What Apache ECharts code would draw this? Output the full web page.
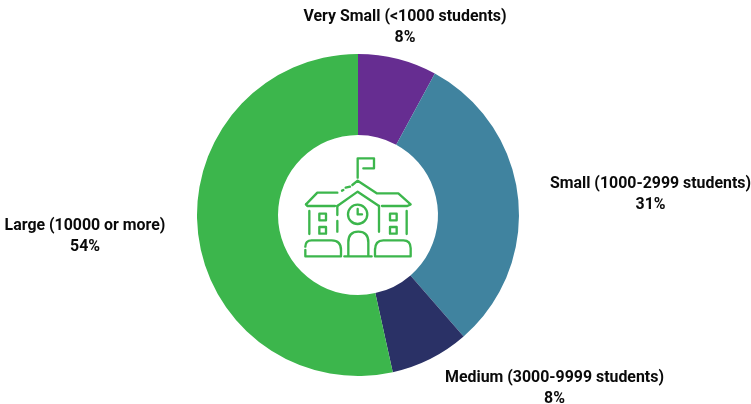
<!DOCTYPE html>
<html>
<head>
<meta charset="utf-8">
<style>html,body{margin:0;padding:0;background:#fff}#chart{width:751px;height:404px}</style>
<script src="https://cdn.jsdelivr.net/npm/echarts@6/dist/echarts.min.js"></script>
</head>
<body>
<div id="chart"></div>
<script>
// Share of institutions by enrolment size
const categories = ['Very Small (<1000 students)', 'Small (1000-2999 students)', 'Medium (3000-9999 students)', 'Large (10000 or more)'];
const shares = [8, 31, 8, 54];
const colors = ['#662d91', '#40839f', '#2a3166', '#3cb64c'];
// Centre of each two-line label
const labelAnchors = [[405, 28], [650.5, 195], [554.5, 389], [85, 237]];

const iconColor = '#3cb64c';
// School building outline, drawn at three times its final size
const iconPaths = [
  'M233 128V70H282V100H250',
  'M78 208L112 173H172M186 167L190 165M197 158L210 155M217 150L233 137L290 175H355L392 208L382 213H306',
  'M78 208L82 213H165M172 213L233 170L297 213',
  'M172 213V240M172 258V290M297 213V290M88 228V297M380 228V297',
  'M118 236H138V256H118ZM118 276H138V296H118ZM330 236H350V256H330ZM330 276H350V296H330Z',
  'M233 209A29 29 0 1 1 232.9 209ZM233 222V238H246',
  'M205 362V322Q205 290 235 290Q265 290 265 322V362M193 364H275',
  'M76 345V364H183V345Q183 316 155 316H95Q76 316 76 335',
  'M285 342V364H392V340Q392 316 370 316H310Q285 316 285 345'
];

const chart = echarts.init(document.getElementById('chart'), null, {renderer: 'canvas'});
chart.setOption({
  animation: false,
  backgroundColor: '#fff',
  series: [{
    type: 'pie',
    center: [358, 215],
    radius: [80, 161],
    startAngle: 90,
    clockwise: true,
    silent: true,
    avoidLabelOverlap: false,
    data: categories.map((name, i) => ({name, value: shares[i], itemStyle: {color: colors[i]}})),
    label: {
      show: true,
      position: 'outside',
      formatter: p => p.name + '\n' + p.value + '%',
      color: '#0a0a0a',
      fontFamily: 'Roboto',
      fontWeight: 700,
      fontSize: 15.9,
      lineHeight: 21,
      align: 'center'
    },
    labelLine: {show: false},
    labelLayout: p => ({
      x: labelAnchors[p.dataIndex][0],
      y: labelAnchors[p.dataIndex][1],
      align: 'center',
      verticalAlign: 'middle'
    })
  }, {
    // School icon in the hole of the ring
    type: 'custom',
    coordinateSystem: 'none',
    silent: true,
    z: 10,
    data: [0],
    renderItem: () => ({
      type: 'group',
      x: 280,
      y: 135,
      scaleX: 1 / 3,
      scaleY: 1 / 3,
      children: iconPaths.map(d => ({
        type: 'path',
        shape: {pathData: d},
        style: {fill: null, stroke: iconColor, lineWidth: 7, lineCap: 'round', lineJoin: 'round'}
      }))
    })
  }]
});
</script>
</body>
</html>
